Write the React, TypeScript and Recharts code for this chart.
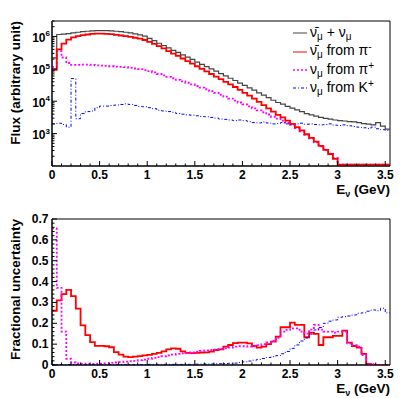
import React from 'react';
import { LineChart, Line, XAxis, YAxis, ReferenceArea, Legend } from 'recharts';

// ---------- binning ----------
const BIN_WIDTH = 0.05; // GeV
const E_MAX = 3.55;
const N_BINS = 71;

// ---------- top panel: flux per 0.05 GeV bin, stored as log10(flux); null = empty bin ----------
const totalLog10 = [
  5.34, 6.06, 6.07, 6.09, 6.11, 6.13, 6.15, 6.16, 6.17, 6.18,
  6.18, 6.18, 6.17, 6.16, 6.15, 6.13, 6.11, 6.08, 6.05, 6.01,
  5.94, 5.87, 5.79, 5.72, 5.65, 5.57, 5.51, 5.43, 5.36, 5.29,
  5.21, 5.14, 5.07, 5.0, 4.93, 4.85, 4.78, 4.71, 4.64, 4.56,
  4.49, 4.41, 4.34, 4.26, 4.19, 4.11, 4.03, 3.96, 3.91, 3.84,
  3.79, 3.73, 3.68, 3.62, 3.58, 3.54, 3.5, 3.47, 3.45, 3.42,
  3.4, 3.39, 3.37, 3.36, 3.34, 3.31, 3.29, 3.27, 3.34, 3.23, 3.14,
];
const antiNuPiMinusLog10: (number | null)[] = [
  4.97, 5.6, 5.78, 5.9, 5.97, 6.01, 6.04, 6.06, 6.08, 6.09,
  6.09, 6.08, 6.07, 6.05, 6.03, 6.01, 5.99, 5.96, 5.93, 5.89,
  5.83, 5.77, 5.7, 5.63, 5.55, 5.47, 5.4, 5.32, 5.24, 5.16,
  5.08, 5.0, 4.92, 4.84, 4.76, 4.68, 4.6, 4.52, 4.44, 4.35,
  4.26, 4.17, 4.08, 3.98, 3.88, 3.78, 3.68, 3.58, 3.5, 3.4,
  3.3, 3.2, 3.1, 2.98, 2.87, 2.75, 2.62, 2.5, 2.37, 2.22,
  null, null, null, null, null, null, null, null, null, null, null,
];
const nuPiPlusLog10: (number | null)[] = [
  5.06, 5.55, 5.35, 5.18, 5.12, 5.12, 5.13, 5.13, 5.12, 5.11,
  5.1, 5.09, 5.08, 5.07, 5.06, 5.05, 5.03, 5.01, 4.99, 4.96,
  4.93, 4.89, 4.84, 4.8, 4.75, 4.71, 4.66, 4.61, 4.57, 4.52,
  4.47, 4.42, 4.37, 4.31, 4.26, 4.2, 4.14, 4.08, 4.02, 3.96,
  3.9, 3.84, 3.78, 3.72, 3.66, 3.59, 3.52, 3.46, 3.4, 3.33,
  3.27, 3.17, 3.07, 2.96, 2.85, 2.73, 2.61, 2.5, 2.38, 2.25,
  null, null, null, null, null, null, null, null, null, null, null,
];
const nuKPlusLog10 = [
  3.3, 3.32, 3.28, 3.2, 4.7, 3.46, 3.62, 3.68, 3.7, 3.8,
  3.85, 3.85, 3.87, 3.88, 3.9, 3.92, 3.9, 3.87, 3.84, 3.83,
  3.8, 3.77, 3.72, 3.7, 3.68, 3.66, 3.62, 3.6, 3.58, 3.57,
  3.55, 3.53, 3.52, 3.5, 3.48, 3.45, 3.44, 3.42, 3.4, 3.42,
  3.4, 3.37, 3.34, 3.33, 3.36, 3.33, 3.3, 3.31, 3.34, 3.3,
  3.28, 3.3, 3.32, 3.29, 3.3, 3.28, 3.27, 3.28, 3.3, 3.26,
  3.25, 3.27, 3.24, 3.22, 3.2, 3.18, 3.16, 3.2, 3.15, 3.12, 3.1,
];

// ---------- bottom panel: fractional uncertainty per bin ----------
const antiNuPiMinusUnc = [
  0.26, 0.31, 0.34, 0.36, 0.33, 0.27, 0.19, 0.143, 0.11, 0.092,
  0.092, 0.09, 0.085, 0.062, 0.05, 0.04, 0.038, 0.04, 0.043, 0.046,
  0.049, 0.053, 0.058, 0.065, 0.075, 0.08, 0.078, 0.065, 0.058, 0.057,
  0.058, 0.06, 0.061, 0.064, 0.072, 0.075, 0.088, 0.096, 0.105, 0.107,
  0.107, 0.104, 0.091, 0.083, 0.088, 0.1, 0.112, 0.136, 0.181, 0.181,
  0.203, 0.192, 0.192, 0.133, 0.155, 0.149, 0.096, 0.133, 0.133, 0.14,
  0.14, 0.165, 0.107, 0.091, 0.083, 0.053, 0.005, 0, 0, 0, 0,
];
const nuPiPlusUnc = [
  0.655, 0.37, 0.16, 0.03, 0.012, 0.008, 0.006, 0.005, 0.005, 0.006,
  0.007, 0.008, 0.01, 0.012, 0.014, 0.016, 0.018, 0.02, 0.023, 0.026,
  0.03, 0.034, 0.038, 0.042, 0.046, 0.05, 0.053, 0.056, 0.058, 0.06,
  0.064, 0.068, 0.07, 0.072, 0.074, 0.077, 0.08, 0.084, 0.088, 0.09,
  0.09, 0.088, 0.09, 0.095, 0.1, 0.108, 0.115, 0.13, 0.16, 0.168,
  0.176, 0.176, 0.16, 0.15, 0.17, 0.192, 0.17, 0.16, 0.16, 0.155,
  0.16, 0.16, 0.104, 0.095, 0.088, 0.048, 0.005, 0.004, 0, 0, 0,
];
const nuKPlusUnc = [
  0.002, 0.002, 0.002, 0.002, 0.002, 0.002, 0.002, 0.002, 0.002, 0.002,
  0.002, 0.002, 0.002, 0.002, 0.002, 0.002, 0.002, 0.002, 0.002, 0.002,
  0.003, 0.003, 0.003, 0.003, 0.003, 0.003, 0.003, 0.003, 0.003, 0.003,
  0.004, 0.004, 0.005, 0.005, 0.006, 0.006, 0.007, 0.008, 0.009, 0.012,
  0.015, 0.019, 0.023, 0.027, 0.031, 0.036, 0.04, 0.045, 0.054, 0.065,
  0.08, 0.096, 0.115, 0.13, 0.148, 0.168, 0.18, 0.2, 0.21, 0.216,
  0.229, 0.232, 0.235, 0.24, 0.248, 0.25, 0.258, 0.264, 0.26, 0.272, 0.25,
];

// ---------- axes ----------
const X_TICKS = [
  0, 0.1, 0.2, 0.3, 0.4, 0.5, 0.6, 0.7, 0.8, 0.9, 1, 1.1, 1.2, 1.3, 1.4, 1.5, 1.6, 1.7, 1.8, 1.9,
  2, 2.1, 2.2, 2.3, 2.4, 2.5, 2.6, 2.7, 2.8, 2.9, 3, 3.1, 3.2, 3.3, 3.4, 3.5,
];
const X_MAJOR_TICKS = [0, 0.5, 1, 1.5, 2, 2.5, 3, 3.5];
const X_TICK_LABELS = ['0', '0.5', '1', '1.5', '2', '2.5', '3', '3.5'];

const FLUX_MIN = 100;
const FLUX_MAX = 3e6;
// empty bins are drawn on the lower edge of the log axis (as the histogram package does)
const EMPTY_BIN_FLUX = 110;
const FLUX_TICKS = [
  200, 300, 400, 500, 600, 700, 800, 900,
  1000, 2000, 3000, 4000, 5000, 6000, 7000, 8000, 9000,
  10000, 20000, 30000, 40000, 50000, 60000, 70000, 80000, 90000,
  100000, 200000, 300000, 400000, 500000, 600000, 700000, 800000, 900000,
  1000000, 2000000, 3000000,
];
const FLUX_MAJOR_TICKS = [1000, 10000, 100000, 1000000];
const FLUX_TICK_EXPONENTS = ['3', '4', '5', '6'];

const UNC_TICKS = [
  0, 0.02, 0.04, 0.06, 0.08, 0.1, 0.12, 0.14, 0.16, 0.18, 0.2, 0.22, 0.24, 0.26, 0.28, 0.3,
  0.32, 0.34, 0.36, 0.38, 0.4, 0.42, 0.44, 0.46, 0.48, 0.5, 0.52, 0.54, 0.56, 0.58, 0.6,
  0.62, 0.64, 0.66, 0.68, 0.7,
];
const UNC_MAJOR_TICKS = [0, 0.1, 0.2, 0.3, 0.4, 0.5, 0.6, 0.7];
const UNC_TICK_LABELS = ['0', '0.1', '0.2', '0.3', '0.4', '0.5', '0.6', '0.7'];

// ---------- tables built from the arrays ----------
const binEdge = (i: number) => Math.round(i * BIN_WIDTH * 100) / 100;
const toFlux = (lg: number | null) => (lg === null ? EMPTY_BIN_FLUX : Math.pow(10, lg));

const fluxData = Array.from({ length: N_BINS + 1 }, (_, i) => {
  const b = Math.min(i, N_BINS - 1);
  return {
    e: binEdge(i),
    total: toFlux(totalLog10[b]),
    piMinus: toFlux(antiNuPiMinusLog10[b]),
    piPlus: toFlux(nuPiPlusLog10[b]),
    kPlus: toFlux(nuKPlusLog10[b]),
  };
});
const uncData = Array.from({ length: N_BINS + 1 }, (_, i) => {
  const b = Math.min(i, N_BINS - 1);
  return {
    e: binEdge(i),
    piMinus: antiNuPiMinusUnc[b],
    piPlus: nuPiPlusUnc[b],
    kPlus: nuKPlusUnc[b],
  };
});

// ---------- styles ----------
const FONT = '"Liberation Sans", Arial, Helvetica, sans-serif';
const TICK_FONT: React.CSSProperties = { fontFamily: FONT, fontWeight: 700, fontSize: 12, fill: '#000' };
const TITLE_FONT: React.CSSProperties = { fontFamily: FONT, fontWeight: 700, fontSize: 13.5, fill: '#000' };

const STYLE = {
  total: { stroke: '#444444', width: 1.2, dash: undefined as string | undefined },
  piMinus: { stroke: '#ff0000', width: 1.8, dash: undefined as string | undefined },
  piPlus: { stroke: '#ff00ff', width: 1.8, dash: '2 2' },
  kPlus: { stroke: '#0000ff', width: 1, dash: '3 2 1 2' },
};

const Sub = ({ children }: { children: React.ReactNode }) => (
  <span style={{ fontSize: 10, position: 'relative', top: 3 }}>{children}</span>
);
const Sup = ({ children }: { children: React.ReactNode }) => (
  <span style={{ fontSize: 10, position: 'relative', top: -5 }}>{children}</span>
);

const LEGEND_ENTRIES = [
  { key: 'total', label: <>ν̄<Sub>μ</Sub> + ν<Sub>μ</Sub></> },
  { key: 'piMinus', label: <>ν̄<Sub>μ</Sub> from π<Sup>-</Sup></> },
  { key: 'piPlus', label: <>ν<Sub>μ</Sub> from π<Sup>+</Sup></> },
  { key: 'kPlus', label: <>ν<Sub>μ</Sub> from K<Sup>+</Sup></> },
] as const;

function renderLegend() {
  return (
    <div style={{ fontFamily: FONT, fontSize: 14, color: '#000', lineHeight: '18.4px' }}>
      {LEGEND_ENTRIES.map((en) => {
        const st = STYLE[en.key];
        return (
          <div key={en.key} style={{ display: 'flex', alignItems: 'center', height: 18.4, whiteSpace: 'nowrap' }}>
            <svg width={16} height={10} style={{ flex: 'none', marginRight: 2 }}>
              <line x1={1} y1={5} x2={15} y2={5} stroke={st.stroke} strokeWidth={en.key === 'piPlus' ? 1.6 : 1} strokeDasharray={st.dash} />
            </svg>
            <span>{en.label}</span>
          </div>
        );
      })}
    </div>
  );
}

// ---------- tick renderers ----------
function renderXTick(props: any) {
  const { x, y, payload } = props;
  const mi = X_MAJOR_TICKS.indexOf(payload.value);
  const len = mi >= 0 ? 5 : 2.5;
  return (
    <g>
      <line x1={x} y1={y} x2={x} y2={y - len} stroke="#000" strokeWidth={1} />
      {mi >= 0 && (
        <text x={x} y={y + 12.5} textAnchor="middle" style={TICK_FONT}>
          {X_TICK_LABELS[mi]}
        </text>
      )}
    </g>
  );
}

function renderFluxTick(props: any) {
  const { x, y, payload } = props;
  const mi = FLUX_MAJOR_TICKS.indexOf(payload.value);
  const len = mi >= 0 ? 5 : 2.5;
  return (
    <g>
      <line x1={x} y1={y} x2={x + len} y2={y} stroke="#000" strokeWidth={1} />
      {mi >= 0 && (
        <text x={x - 2} y={y + 5.5} textAnchor="end" style={TICK_FONT}>
          10<tspan dy={-5.5} style={{ fontSize: 8 }}>{FLUX_TICK_EXPONENTS[mi]}</tspan>
        </text>
      )}
    </g>
  );
}

function renderUncTick(props: any) {
  const { x, y, payload } = props;
  const mi = UNC_MAJOR_TICKS.indexOf(payload.value);
  const len = mi >= 0 ? 5 : 2.5;
  return (
    <g>
      <line x1={x} y1={y} x2={x + len} y2={y} stroke="#000" strokeWidth={1} />
      {mi >= 0 && (
        <text x={x - 3.5} y={y + 4} textAnchor="end" style={TICK_FONT}>
          {UNC_TICK_LABELS[mi]}
        </text>
      )}
    </g>
  );
}

const renderXTitle = (props: any) => {
  const vb = props.viewBox;
  return (
    <text x={vb.x + vb.width} y={vb.y + 27.5} textAnchor="end" style={TITLE_FONT}>
      E<tspan dy={3} style={{ fontSize: 9 }}>ν</tspan>
      <tspan dy={-3}> (GeV)</tspan>
    </text>
  );
};

const makeYTitle = (title: string) => (props: any) => {
  const vb = props.viewBox;
  const tx = vb.x + 20;
  const ty = vb.y;
  return (
    <text x={tx} y={ty} transform={`rotate(-90 ${tx} ${ty})`} textAnchor="end" style={TITLE_FONT}>
      {title}
    </text>
  );
};

export default function App() {
  return (
    <div style={{ position: 'absolute', left: 0, top: 0, width: 415, height: 398, background: '#fff' }}>
      <div style={{ position: 'absolute', left: 0, top: 0 }}>
        <LineChart width={415} height={200} data={fluxData} margin={{ top: 21, right: 25, bottom: 0, left: 0 }}>
          <XAxis
            type="number"
            dataKey="e"
            domain={[0, E_MAX]}
            ticks={X_TICKS}
            interval={0}
            allowDataOverflow
            tickLine={false}
            tickSize={0}
            tickMargin={0}
            height={34}
            axisLine={{ stroke: '#000' }}
            tick={renderXTick}
            label={renderXTitle}
          />
          <YAxis
            type="number"
            scale="log"
            domain={[FLUX_MIN, FLUX_MAX]}
            ticks={FLUX_TICKS}
            interval={0}
            allowDataOverflow
            tickLine={false}
            tickSize={0}
            tickMargin={0}
            width={52}
            axisLine={{ stroke: '#000' }}
            tick={renderFluxTick}
            label={makeYTitle('Flux (arbitrary unit)')}
          />
          <ReferenceArea x1={0} x2={E_MAX} y1={FLUX_MIN} y2={FLUX_MAX} fill="none" stroke="#000" strokeWidth={1} ifOverflow="visible" />
          <Line type="stepAfter" dataKey="total" name="total" stroke={STYLE.total.stroke} strokeWidth={STYLE.total.width} dot={false} isAnimationActive={false} />
          <Line type="stepAfter" dataKey="piPlus" name="piPlus" stroke={STYLE.piPlus.stroke} strokeWidth={STYLE.piPlus.width} strokeDasharray={STYLE.piPlus.dash} dot={false} isAnimationActive={false} />
          <Line type="stepAfter" dataKey="kPlus" name="kPlus" stroke={STYLE.kPlus.stroke} strokeWidth={STYLE.kPlus.width} strokeDasharray={STYLE.kPlus.dash} dot={false} isAnimationActive={false} />
          <Line type="stepAfter" dataKey="piMinus" name="piMinus" stroke={STYLE.piMinus.stroke} strokeWidth={STYLE.piMinus.width} dot={false} isAnimationActive={false} />
          <Legend
            layout="vertical"
            align="center"
            verticalAlign="middle"
            content={renderLegend}
            wrapperStyle={{ left: 292, top: 24, width: 110 }}
          />
        </LineChart>
      </div>
      <div style={{ position: 'absolute', left: 0, top: 200 }}>
        <LineChart width={415} height={198} data={uncData} margin={{ top: 19, right: 25, bottom: 0, left: 0 }}>
          <XAxis
            type="number"
            dataKey="e"
            domain={[0, E_MAX]}
            ticks={X_TICKS}
            interval={0}
            allowDataOverflow
            tickLine={false}
            tickSize={0}
            tickMargin={0}
            height={33}
            axisLine={{ stroke: '#000' }}
            tick={renderXTick}
            label={renderXTitle}
          />
          <YAxis
            type="number"
            domain={[0, 0.7]}
            ticks={UNC_TICKS}
            interval={0}
            allowDataOverflow
            tickLine={false}
            tickSize={0}
            tickMargin={0}
            width={52}
            axisLine={{ stroke: '#000' }}
            tick={renderUncTick}
            label={makeYTitle('Fractional uncertainty')}
          />
          <ReferenceArea x1={0} x2={E_MAX} y1={0} y2={0.7} fill="none" stroke="#000" strokeWidth={1} ifOverflow="visible" />
          <Line type="stepAfter" dataKey="piMinus" stroke={STYLE.piMinus.stroke} strokeWidth={STYLE.piMinus.width} dot={false} isAnimationActive={false} />
          <Line type="stepAfter" dataKey="piPlus" stroke={STYLE.piPlus.stroke} strokeWidth={STYLE.piPlus.width} strokeDasharray={STYLE.piPlus.dash} dot={false} isAnimationActive={false} />
          <Line type="stepAfter" dataKey="kPlus" stroke={STYLE.kPlus.stroke} strokeWidth={STYLE.kPlus.width} strokeDasharray={STYLE.kPlus.dash} dot={false} isAnimationActive={false} />
        </LineChart>
      </div>
    </div>
  );
}
